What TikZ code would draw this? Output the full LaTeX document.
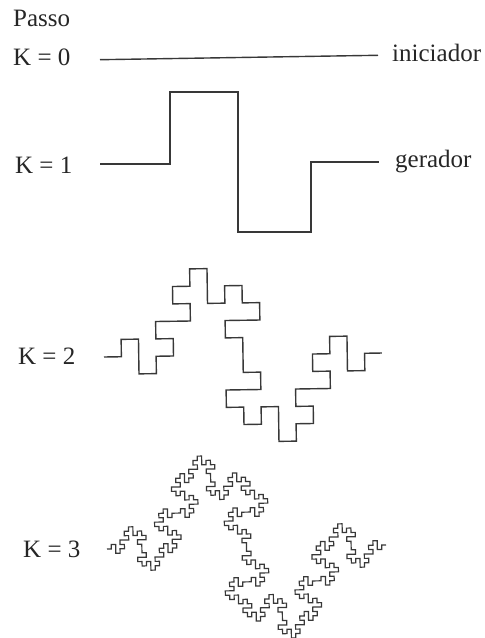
\documentclass[tikz,border=0pt]{standalone}
\usepackage{fontspec}
\setmainfont{Liberation Serif}
\usetikzlibrary{lindenmayersystems}
\pgfdeclarelindenmayersystem{Minkowski}{\rule{F -> F+F-F-FF+F+F-F}}
\begin{document}
\begin{tikzpicture}[x=1pt,y=1pt,
  lbl/.style={anchor=base west,inner sep=0pt,font=\fontsize{25}{30}\selectfont,text=black!85},
  curve/.style={draw=black!78,line width=1.4pt,line join=miter}]
\useasboundingbox (0,0) rectangle (485,638);
% labels
\node[lbl] (passo) at (13,611) {Passo};
\node[lbl] (k0) at (13,572) {K = 0};
\node[lbl] (ini) at (392,576) {iniciador};
\node[lbl] (k1) at (15,464) {K = 1};
\node[lbl] (ger) at (395,470) {gerador};
\node[lbl] (k2) at (18,273) {K = 2};
\node[lbl] (k3) at (23,80) {K = 3};
% K = 0 initiator
\draw[curve] (100,578.3) -- (378,582.7);
% K = 1 generator
\draw[curve] (100,474) -- (170,474) -- (170,546) -- (238,546) -- (238,406)
  -- (311,406) -- (311,476) -- (379,476);
% K = 2
\begin{scope}[shift={(104,281)},rotate=0.82]
\draw[curve,l-system={Minkowski,axiom=F,order=2,angle=90,step=17.375pt}] (0,0) l-system;
\end{scope}
% K = 3
\begin{scope}[shift={(107,89)},rotate=0.82]
\draw[curve,line width=1.2pt,l-system={Minkowski,axiom=F,order=3,angle=90,step=4.36pt}] (0,0) l-system;
\end{scope}
\end{tikzpicture}
\end{document}
